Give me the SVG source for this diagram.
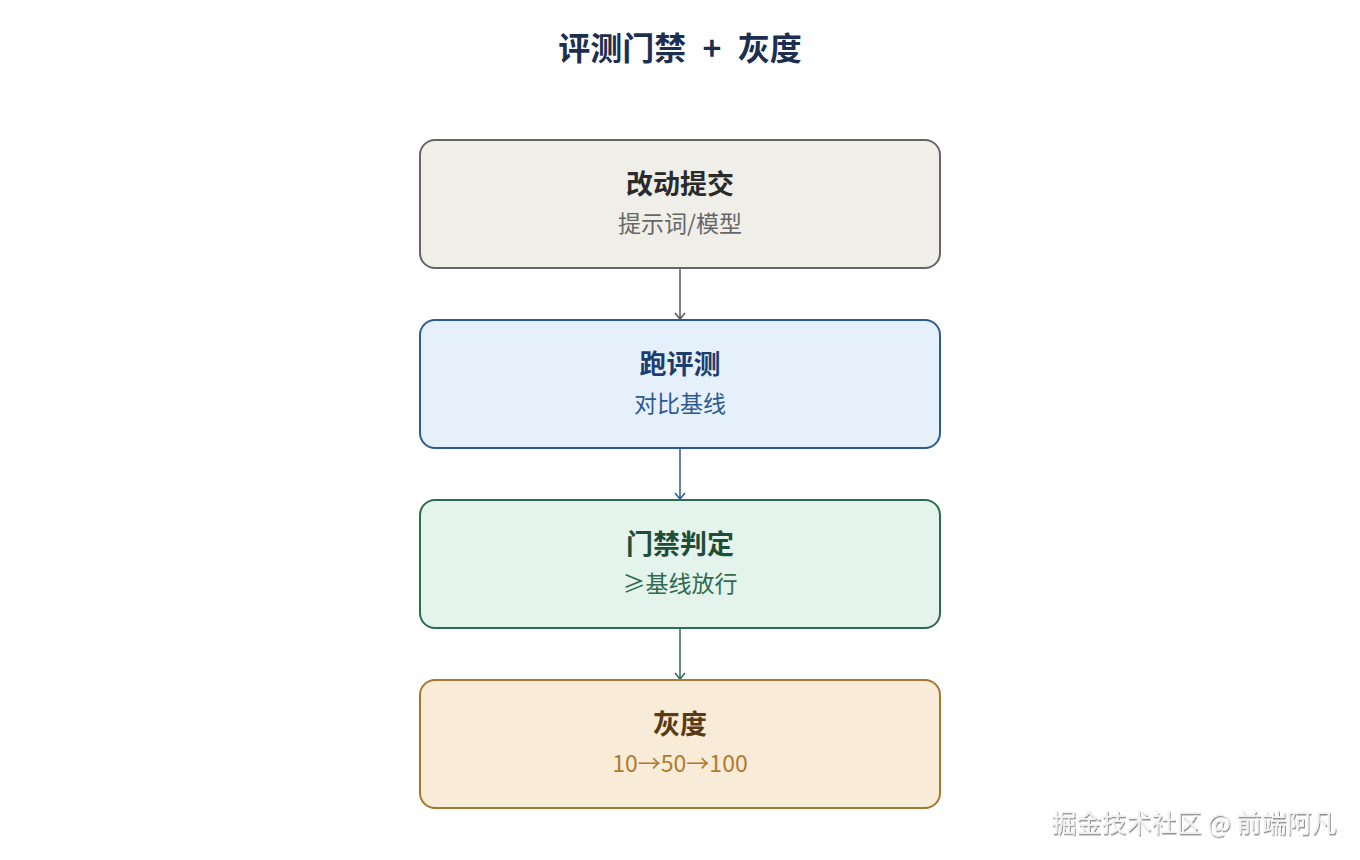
<svg xmlns="http://www.w3.org/2000/svg" width="1360" height="860" viewBox="0 0 1360 860">
<style>
text{font-family:"Noto Sans CJK SC","Noto Sans",sans-serif;text-anchor:middle}
.t{font-size:27px;font-weight:700}
.s{font-size:23px}
.box{stroke-width:2}
.c{fill:none;stroke-width:1.5}
</style>
<defs>
<marker id="a1" markerWidth="12" markerHeight="12" refX="10" refY="6" orient="auto" markerUnits="userSpaceOnUse" viewBox="0 0 12 12"><path d="M4,1 L10,6 L4,11" fill="none" stroke="#555" stroke-width="1.5"/></marker>
<marker id="a2" markerWidth="12" markerHeight="12" refX="10" refY="6" orient="auto" markerUnits="userSpaceOnUse" viewBox="0 0 12 12"><path d="M4,1 L10,6 L4,11" fill="none" stroke="#2e5a94" stroke-width="1.5"/></marker>
<marker id="a3" markerWidth="12" markerHeight="12" refX="10" refY="6" orient="auto" markerUnits="userSpaceOnUse" viewBox="0 0 12 12"><path d="M4,1 L10,6 L4,11" fill="none" stroke="#2e6b50" stroke-width="1.5"/></marker>
<filter id="sh" x="-5%" y="-20%" width="110%" height="140%"><feDropShadow dx="1" dy="1.5" stdDeviation="0.6" flood-color="#000" flood-opacity="0.45"/></filter>
</defs>
<rect width="1360" height="860" fill="#ffffff"/>
<text x="680" y="60" style="font-size:32px;font-weight:700;word-spacing:9px" fill="#1c2f4e">评测门禁 + 灰度</text>
<g id="connectors">
<line class="c" x1="680" y1="268" x2="680" y2="319" stroke="#555" marker-end="url(#a1)"/>
<line class="c" x1="680" y1="448" x2="680" y2="499" stroke="#2e5a94" marker-end="url(#a2)"/>
<line class="c" x1="680" y1="628" x2="680" y2="679" stroke="#2e6b50" marker-end="url(#a3)"/>
</g>
<g id="node1">
<rect class="box" x="420" y="140" width="520" height="128" rx="15" fill="#f0eee9" stroke="#666"/>
<text class="t" x="680" y="194" fill="#2b2b2b">改动提交</text>
<text class="s" x="680" y="232" fill="#666">提示词/模型</text>
</g>
<g id="node2">
<rect class="box" x="420" y="320" width="520" height="128" rx="15" fill="#e6f0fa" stroke="#2e5a94"/>
<text class="t" x="680" y="374" fill="#1d3c70">跑评测</text>
<text class="s" x="680" y="412" fill="#2e5a94">对比基线</text>
</g>
<g id="node3">
<rect class="box" x="420" y="500" width="520" height="128" rx="15" fill="#e4f3ec" stroke="#2e6b50"/>
<text class="t" x="680" y="554" fill="#1f4d38">门禁判定</text>
<text class="s" x="680" y="592" fill="#2e6b50">≥基线放行</text>
</g>
<g id="node4">
<rect class="box" x="420" y="680" width="520" height="128" rx="15" fill="#f8ecd9" stroke="#a8772e"/>
<text class="t" x="680" y="734" fill="#5a3a14">灰度</text>
<text class="s" x="680" y="772" fill="#b07a2c">10→50→100</text>
</g>
<text x="1194" y="832" style="font-size:25px" fill="#f2f2f2" filter="url(#sh)">掘金技术社区 @ 前端阿凡</text>
</svg>
